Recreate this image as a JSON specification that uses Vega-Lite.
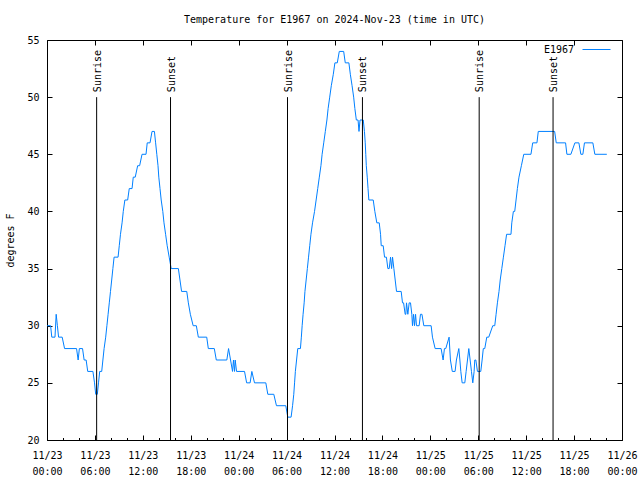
{
  "$schema": "https://vega.github.io/schema/vega-lite/v6.json",
  "width": 575,
  "height": 400,
  "autosize": "none",
  "padding": {"left": 47, "top": 40, "right": 18, "bottom": 40},
  "background": "white",
  "title": {"text": "Temperature for E1967 on 2024-Nov-23 (time in UTC)", "font": "DejaVu Sans Mono", "fontSize": 10, "fontWeight": "normal", "color": "black", "anchor": "middle", "offset": 2, "baseline": "alphabetic"},
  "config": {
    "view": {"stroke": "black", "strokeWidth": 1},
    "font": "DejaVu Sans Mono",
    "axis": {"labelFont": "DejaVu Sans Mono", "labelFontSize": 10, "labelColor": "black", "grid": false, "domain": false, "tickColor": "black", "tickWidth": 1, "titleFont": "DejaVu Sans Mono", "titleFontSize": 10, "titleFontWeight": "normal", "titleColor": "black", "labelOverlap": false, "labelFlush": false, "labelBound": false}
  },
  "datasets": {
    "temps": [
      {"time": "2024-11-23T00:00Z", "temp": 30}, {"time": "2024-11-23T00:27Z", "temp": 30}, {"time": "2024-11-23T00:36Z", "temp": 29}, {"time": "2024-11-23T01:00Z", "temp": 29},
      {"time": "2024-11-23T01:09Z", "temp": 31}, {"time": "2024-11-23T01:18Z", "temp": 30}, {"time": "2024-11-23T01:27Z", "temp": 29}, {"time": "2024-11-23T01:54Z", "temp": 29},
      {"time": "2024-11-23T02:12Z", "temp": 28}, {"time": "2024-11-23T03:42Z", "temp": 28}, {"time": "2024-11-23T03:54Z", "temp": 27}, {"time": "2024-11-23T04:03Z", "temp": 28},
      {"time": "2024-11-23T04:27Z", "temp": 28}, {"time": "2024-11-23T04:39Z", "temp": 27}, {"time": "2024-11-23T04:54Z", "temp": 27}, {"time": "2024-11-23T05:06Z", "temp": 26},
      {"time": "2024-11-23T05:45Z", "temp": 26}, {"time": "2024-11-23T05:57Z", "temp": 25}, {"time": "2024-11-23T06:06Z", "temp": 24}, {"time": "2024-11-23T06:18Z", "temp": 24},
      {"time": "2024-11-23T06:27Z", "temp": 25}, {"time": "2024-11-23T06:36Z", "temp": 26}, {"time": "2024-11-23T06:51Z", "temp": 26}, {"time": "2024-11-23T07:00Z", "temp": 27},
      {"time": "2024-11-23T07:09Z", "temp": 28}, {"time": "2024-11-23T07:21Z", "temp": 29}, {"time": "2024-11-23T07:30Z", "temp": 30}, {"time": "2024-11-23T07:39Z", "temp": 31},
      {"time": "2024-11-23T07:48Z", "temp": 32}, {"time": "2024-11-23T07:57Z", "temp": 33}, {"time": "2024-11-23T08:06Z", "temp": 34}, {"time": "2024-11-23T08:15Z", "temp": 35},
      {"time": "2024-11-23T08:24Z", "temp": 36}, {"time": "2024-11-23T08:54Z", "temp": 36}, {"time": "2024-11-23T09:03Z", "temp": 37}, {"time": "2024-11-23T09:12Z", "temp": 38},
      {"time": "2024-11-23T09:24Z", "temp": 39}, {"time": "2024-11-23T09:33Z", "temp": 40}, {"time": "2024-11-23T09:45Z", "temp": 41}, {"time": "2024-11-23T10:06Z", "temp": 41},
      {"time": "2024-11-23T10:18Z", "temp": 42}, {"time": "2024-11-23T10:39Z", "temp": 42}, {"time": "2024-11-23T10:48Z", "temp": 43}, {"time": "2024-11-23T11:03Z", "temp": 43},
      {"time": "2024-11-23T11:21Z", "temp": 44}, {"time": "2024-11-23T11:36Z", "temp": 44}, {"time": "2024-11-23T11:54Z", "temp": 45}, {"time": "2024-11-23T12:24Z", "temp": 45},
      {"time": "2024-11-23T12:33Z", "temp": 46}, {"time": "2024-11-23T12:54Z", "temp": 46}, {"time": "2024-11-23T13:09Z", "temp": 47}, {"time": "2024-11-23T13:27Z", "temp": 47},
      {"time": "2024-11-23T13:36Z", "temp": 46}, {"time": "2024-11-23T13:45Z", "temp": 45}, {"time": "2024-11-23T13:54Z", "temp": 44}, {"time": "2024-11-23T14:00Z", "temp": 43},
      {"time": "2024-11-23T14:09Z", "temp": 42}, {"time": "2024-11-23T14:18Z", "temp": 41}, {"time": "2024-11-23T14:30Z", "temp": 40}, {"time": "2024-11-23T14:39Z", "temp": 39},
      {"time": "2024-11-23T14:51Z", "temp": 38}, {"time": "2024-11-23T15:03Z", "temp": 37}, {"time": "2024-11-23T15:18Z", "temp": 36}, {"time": "2024-11-23T15:33Z", "temp": 35},
      {"time": "2024-11-23T16:27Z", "temp": 35}, {"time": "2024-11-23T16:39Z", "temp": 34}, {"time": "2024-11-23T16:51Z", "temp": 33}, {"time": "2024-11-23T17:30Z", "temp": 33},
      {"time": "2024-11-23T17:42Z", "temp": 32}, {"time": "2024-11-23T17:57Z", "temp": 31}, {"time": "2024-11-23T18:18Z", "temp": 30}, {"time": "2024-11-23T18:42Z", "temp": 30},
      {"time": "2024-11-23T18:57Z", "temp": 29}, {"time": "2024-11-23T20:00Z", "temp": 29}, {"time": "2024-11-23T20:12Z", "temp": 28}, {"time": "2024-11-23T20:57Z", "temp": 28},
      {"time": "2024-11-23T21:12Z", "temp": 27}, {"time": "2024-11-23T22:31Z", "temp": 27}, {"time": "2024-11-23T22:44Z", "temp": 28}, {"time": "2024-11-23T22:59Z", "temp": 27},
      {"time": "2024-11-23T23:14Z", "temp": 26}, {"time": "2024-11-23T23:21Z", "temp": 27}, {"time": "2024-11-23T23:29Z", "temp": 26}, {"time": "2024-11-23T23:34Z", "temp": 27},
      {"time": "2024-11-23T23:44Z", "temp": 26},
      {"time": "2024-11-24T00:44Z", "temp": 26}, {"time": "2024-11-24T01:00Z", "temp": 25}, {"time": "2024-11-24T01:26Z", "temp": 25}, {"time": "2024-11-24T01:39Z", "temp": 26},
      {"time": "2024-11-24T01:59Z", "temp": 25}, {"time": "2024-11-24T03:24Z", "temp": 25}, {"time": "2024-11-24T03:39Z", "temp": 24}, {"time": "2024-11-24T04:24Z", "temp": 24},
      {"time": "2024-11-24T04:44Z", "temp": 23}, {"time": "2024-11-24T05:54Z", "temp": 23}, {"time": "2024-11-24T06:09Z", "temp": 22}, {"time": "2024-11-24T06:34Z", "temp": 22},
      {"time": "2024-11-24T06:45Z", "temp": 23}, {"time": "2024-11-24T06:54Z", "temp": 24}, {"time": "2024-11-24T07:00Z", "temp": 25}, {"time": "2024-11-24T07:06Z", "temp": 26},
      {"time": "2024-11-24T07:15Z", "temp": 27}, {"time": "2024-11-24T07:24Z", "temp": 28}, {"time": "2024-11-24T07:44Z", "temp": 28}, {"time": "2024-11-24T07:51Z", "temp": 29},
      {"time": "2024-11-24T07:57Z", "temp": 30}, {"time": "2024-11-24T08:04Z", "temp": 31}, {"time": "2024-11-24T08:12Z", "temp": 32}, {"time": "2024-11-24T08:18Z", "temp": 33},
      {"time": "2024-11-24T08:27Z", "temp": 34}, {"time": "2024-11-24T08:36Z", "temp": 35}, {"time": "2024-11-24T08:45Z", "temp": 36}, {"time": "2024-11-24T08:54Z", "temp": 37},
      {"time": "2024-11-24T09:03Z", "temp": 38}, {"time": "2024-11-24T09:15Z", "temp": 39}, {"time": "2024-11-24T09:30Z", "temp": 40}, {"time": "2024-11-24T09:42Z", "temp": 41},
      {"time": "2024-11-24T09:54Z", "temp": 42}, {"time": "2024-11-24T10:06Z", "temp": 43}, {"time": "2024-11-24T10:18Z", "temp": 44}, {"time": "2024-11-24T10:27Z", "temp": 45},
      {"time": "2024-11-24T10:39Z", "temp": 46}, {"time": "2024-11-24T10:51Z", "temp": 47}, {"time": "2024-11-24T11:03Z", "temp": 48}, {"time": "2024-11-24T11:12Z", "temp": 49},
      {"time": "2024-11-24T11:24Z", "temp": 50}, {"time": "2024-11-24T11:36Z", "temp": 51}, {"time": "2024-11-24T11:51Z", "temp": 52}, {"time": "2024-11-24T12:03Z", "temp": 53},
      {"time": "2024-11-24T12:21Z", "temp": 53}, {"time": "2024-11-24T12:36Z", "temp": 54}, {"time": "2024-11-24T13:09Z", "temp": 54}, {"time": "2024-11-24T13:21Z", "temp": 53},
      {"time": "2024-11-24T13:48Z", "temp": 53}, {"time": "2024-11-24T13:59Z", "temp": 52}, {"time": "2024-11-24T14:12Z", "temp": 51}, {"time": "2024-11-24T14:24Z", "temp": 50},
      {"time": "2024-11-24T14:33Z", "temp": 49}, {"time": "2024-11-24T14:44Z", "temp": 48}, {"time": "2024-11-24T14:57Z", "temp": 48}, {"time": "2024-11-24T15:04Z", "temp": 47},
      {"time": "2024-11-24T15:12Z", "temp": 48}, {"time": "2024-11-24T15:36Z", "temp": 48}, {"time": "2024-11-24T15:45Z", "temp": 47}, {"time": "2024-11-24T15:51Z", "temp": 46},
      {"time": "2024-11-24T15:55Z", "temp": 45}, {"time": "2024-11-24T15:59Z", "temp": 44}, {"time": "2024-11-24T16:06Z", "temp": 43}, {"time": "2024-11-24T16:12Z", "temp": 42},
      {"time": "2024-11-24T16:18Z", "temp": 41}, {"time": "2024-11-24T16:51Z", "temp": 41}, {"time": "2024-11-24T17:03Z", "temp": 40}, {"time": "2024-11-24T17:18Z", "temp": 39},
      {"time": "2024-11-24T17:36Z", "temp": 39}, {"time": "2024-11-24T17:46Z", "temp": 38}, {"time": "2024-11-24T17:51Z", "temp": 37}, {"time": "2024-11-24T18:06Z", "temp": 37},
      {"time": "2024-11-24T18:16Z", "temp": 36}, {"time": "2024-11-24T18:30Z", "temp": 36}, {"time": "2024-11-24T18:41Z", "temp": 35}, {"time": "2024-11-24T18:51Z", "temp": 35},
      {"time": "2024-11-24T19:01Z", "temp": 36}, {"time": "2024-11-24T19:09Z", "temp": 35}, {"time": "2024-11-24T19:16Z", "temp": 36}, {"time": "2024-11-24T19:26Z", "temp": 35},
      {"time": "2024-11-24T19:36Z", "temp": 34}, {"time": "2024-11-24T19:46Z", "temp": 33}, {"time": "2024-11-24T20:21Z", "temp": 33}, {"time": "2024-11-24T20:31Z", "temp": 32},
      {"time": "2024-11-24T20:39Z", "temp": 32}, {"time": "2024-11-24T20:51Z", "temp": 31}, {"time": "2024-11-24T20:56Z", "temp": 31}, {"time": "2024-11-24T21:01Z", "temp": 32},
      {"time": "2024-11-24T21:11Z", "temp": 31}, {"time": "2024-11-24T21:21Z", "temp": 32}, {"time": "2024-11-24T21:31Z", "temp": 32}, {"time": "2024-11-24T21:41Z", "temp": 31},
      {"time": "2024-11-24T21:46Z", "temp": 30}, {"time": "2024-11-24T21:54Z", "temp": 31}, {"time": "2024-11-24T22:01Z", "temp": 30}, {"time": "2024-11-24T22:09Z", "temp": 31},
      {"time": "2024-11-24T22:16Z", "temp": 30}, {"time": "2024-11-24T22:36Z", "temp": 30}, {"time": "2024-11-24T22:46Z", "temp": 31}, {"time": "2024-11-24T22:57Z", "temp": 31},
      {"time": "2024-11-24T23:11Z", "temp": 30},
      {"time": "2024-11-25T00:06Z", "temp": 30}, {"time": "2024-11-25T00:16Z", "temp": 29}, {"time": "2024-11-25T00:36Z", "temp": 28}, {"time": "2024-11-25T01:21Z", "temp": 28},
      {"time": "2024-11-25T01:36Z", "temp": 27}, {"time": "2024-11-25T01:46Z", "temp": 28}, {"time": "2024-11-25T01:56Z", "temp": 28}, {"time": "2024-11-25T02:21Z", "temp": 29},
      {"time": "2024-11-25T02:31Z", "temp": 27}, {"time": "2024-11-25T02:45Z", "temp": 26}, {"time": "2024-11-25T03:06Z", "temp": 26}, {"time": "2024-11-25T03:16Z", "temp": 27},
      {"time": "2024-11-25T03:34Z", "temp": 28}, {"time": "2024-11-25T03:42Z", "temp": 27}, {"time": "2024-11-25T03:49Z", "temp": 26}, {"time": "2024-11-25T03:59Z", "temp": 25},
      {"time": "2024-11-25T04:19Z", "temp": 25}, {"time": "2024-11-25T04:29Z", "temp": 26}, {"time": "2024-11-25T04:39Z", "temp": 27}, {"time": "2024-11-25T04:49Z", "temp": 28},
      {"time": "2024-11-25T04:59Z", "temp": 27}, {"time": "2024-11-25T05:09Z", "temp": 26}, {"time": "2024-11-25T05:19Z", "temp": 25}, {"time": "2024-11-25T05:29Z", "temp": 26},
      {"time": "2024-11-25T05:34Z", "temp": 27}, {"time": "2024-11-25T05:42Z", "temp": 27}, {"time": "2024-11-25T05:54Z", "temp": 26}, {"time": "2024-11-25T06:19Z", "temp": 26},
      {"time": "2024-11-25T06:29Z", "temp": 27}, {"time": "2024-11-25T06:38Z", "temp": 28}, {"time": "2024-11-25T06:49Z", "temp": 28}, {"time": "2024-11-25T07:04Z", "temp": 29},
      {"time": "2024-11-25T07:19Z", "temp": 29}, {"time": "2024-11-25T07:49Z", "temp": 30}, {"time": "2024-11-25T08:04Z", "temp": 30}, {"time": "2024-11-25T08:14Z", "temp": 31},
      {"time": "2024-11-25T08:24Z", "temp": 32}, {"time": "2024-11-25T08:36Z", "temp": 33}, {"time": "2024-11-25T08:45Z", "temp": 34}, {"time": "2024-11-25T08:57Z", "temp": 35},
      {"time": "2024-11-25T09:09Z", "temp": 36}, {"time": "2024-11-25T09:21Z", "temp": 37}, {"time": "2024-11-25T09:33Z", "temp": 38}, {"time": "2024-11-25T10:06Z", "temp": 38},
      {"time": "2024-11-25T10:12Z", "temp": 39}, {"time": "2024-11-25T10:24Z", "temp": 40}, {"time": "2024-11-25T10:34Z", "temp": 40}, {"time": "2024-11-25T10:44Z", "temp": 41},
      {"time": "2024-11-25T10:54Z", "temp": 42}, {"time": "2024-11-25T11:06Z", "temp": 43}, {"time": "2024-11-25T11:24Z", "temp": 44}, {"time": "2024-11-25T11:42Z", "temp": 45},
      {"time": "2024-11-25T12:36Z", "temp": 45}, {"time": "2024-11-25T12:49Z", "temp": 46}, {"time": "2024-11-25T13:21Z", "temp": 46}, {"time": "2024-11-25T13:31Z", "temp": 47},
      {"time": "2024-11-25T15:34Z", "temp": 47}, {"time": "2024-11-25T15:46Z", "temp": 46}, {"time": "2024-11-25T16:56Z", "temp": 46}, {"time": "2024-11-25T17:06Z", "temp": 45},
      {"time": "2024-11-25T17:36Z", "temp": 45}, {"time": "2024-11-25T18:06Z", "temp": 46}, {"time": "2024-11-25T18:36Z", "temp": 46}, {"time": "2024-11-25T18:51Z", "temp": 45},
      {"time": "2024-11-25T19:06Z", "temp": 45}, {"time": "2024-11-25T19:18Z", "temp": 46}, {"time": "2024-11-25T20:21Z", "temp": 46}, {"time": "2024-11-25T20:36Z", "temp": 45},
      {"time": "2024-11-25T22:06Z", "temp": 45}
    ],
    "sun": [
      {"time": "2024-11-23T06:13Z", "label": "Sunrise"},
      {"time": "2024-11-23T15:28Z", "label": "Sunset"},
      {"time": "2024-11-24T06:07Z", "label": "Sunrise"},
      {"time": "2024-11-24T15:30Z", "label": "Sunset"},
      {"time": "2024-11-25T06:07Z", "label": "Sunrise"},
      {"time": "2024-11-25T15:22Z", "label": "Sunset"}
    ]
  },
  "layer": [
    {
      "data": {"name": "temps"},
      "mark": {"type": "line", "strokeWidth": 1, "interpolate": "linear"},
      "encoding": {
        "x": {"field": "time", "type": "temporal",
          "scale": {"type": "utc", "nice": false, "domain": [1732320000000, 1732579200000]},
          "axis": {"orient": "bottom", "title": null, "offset": -5, "tickSize": 5, "labelPadding": 10, "labelBaseline": "top", "labelAlign": "center",
            "values": [1732320000000, 1732341600000, 1732363200000, 1732384800000, 1732406400000, 1732428000000, 1732449600000, 1732471200000, 1732492800000, 1732514400000, 1732536000000, 1732557600000, 1732579200000],
            "labelExpr": "utcFormat(datum.value, '%m/%d')"}},
        "y": {"field": "temp", "type": "quantitative",
          "scale": {"domain": [20, 55], "nice": false, "zero": false},
          "axis": {"orient": "left", "values": [20, 25, 30, 35, 40, 45, 50, 55], "offset": -5, "tickSize": 5, "labelPadding": 8, "labelBaseline": "middle",
            "title": "degrees F", "titleX": -42, "titleY": 200, "titleAngle": 270, "titleAlign": "center", "titleBaseline": "middle"}},
        "color": {"datum": "E1967", "scale": {"domain": ["E1967"], "range": ["#0080ff"]},
          "legend": {"orient": "none", "legendX": 535, "legendY": -5, "title": null, "symbolType": "stroke", "symbolSize": 784, "symbolStrokeWidth": 1,
            "labelAlign": "right", "labelOffset": -37, "labelFont": "DejaVu Sans Mono", "labelFontSize": 10, "labelColor": "black", "padding": 0}}
      }
    },
    {
      "data": {"name": "sun"},
      "mark": {"type": "rule", "color": "black", "strokeWidth": 1},
      "encoding": {
        "x": {"field": "time", "type": "temporal",
          "axis": {"orient": "top", "title": null, "labels": false, "offset": -5, "tickSize": 5,
            "values": [1732320000000, 1732341600000, 1732363200000, 1732384800000, 1732406400000, 1732428000000, 1732449600000, 1732471200000, 1732492800000, 1732514400000, 1732536000000, 1732557600000, 1732579200000]}},
        "y": {"datum": 20, "type": "quantitative",
          "axis": {"orient": "right", "title": null, "labels": false, "values": [20, 25, 30, 35, 40, 45, 50, 55], "offset": -5, "tickSize": 5}},
        "y2": {"datum": 50}
      }
    },
    {
      "data": {"name": "sun"},
      "mark": {"type": "text", "angle": 270, "align": "left", "baseline": "middle", "dx": 5, "dy": 1, "font": "DejaVu Sans Mono", "fontSize": 10, "color": "black"},
      "encoding": {
        "x": {"field": "time", "type": "temporal",
          "axis": {"orient": "bottom", "title": null, "offset": -2.5, "tickSize": 2.5, "labelPadding": 26, "labelBaseline": "top", "labelAlign": "center",
            "values": [1732320000000, 1732327200000, 1732334400000, 1732341600000, 1732348800000, 1732356000000, 1732363200000, 1732370400000, 1732377600000, 1732384800000, 1732392000000, 1732399200000, 1732406400000, 1732413600000, 1732420800000, 1732428000000, 1732435200000, 1732442400000, 1732449600000, 1732456800000, 1732464000000, 1732471200000, 1732478400000, 1732485600000, 1732492800000, 1732500000000, 1732507200000, 1732514400000, 1732521600000, 1732528800000, 1732536000000, 1732543200000, 1732550400000, 1732557600000, 1732564800000, 1732572000000, 1732579200000],
            "labelExpr": "utchours(datum.value) % 6 == 0 ? utcFormat(datum.value, '%H:%M') : ''"}},
        "y": {"datum": 50, "type": "quantitative", "axis": null},
        "text": {"field": "label"}
      }
    }
  ],
  "resolve": {"axis": {"x": "independent", "y": "independent"}}
}
